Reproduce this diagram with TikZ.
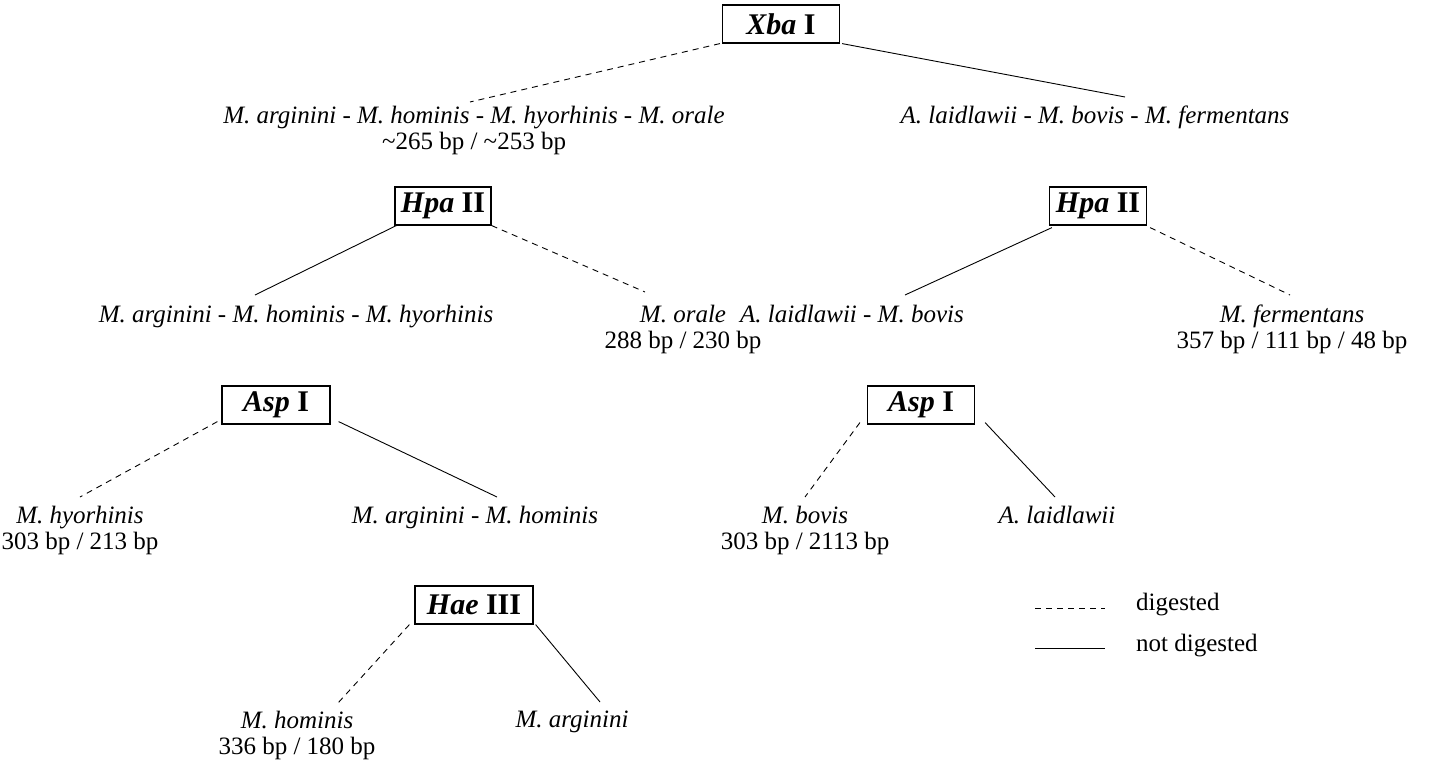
\documentclass[tikz,border=0pt]{standalone}
\usepackage{fontspec}
\setmainfont{Liberation Serif}
\usetikzlibrary{positioning}

\tikzset{
  enzyme/.style={draw, line width=1.2pt, inner xsep=6pt, minimum height=38pt,
                 font=\fontsize{30}{30}\selectfont\bfseries},
  species/.style={inner sep=0pt, align=center, font=\fontsize{25}{26}\selectfont},
  digest/.style={line width=0.9pt, dash pattern=on 6pt off 5pt},
  nodigest/.style={line width=0.9pt}
}

\begin{document}
\begin{tikzpicture}[x=1pt,y=-1pt]
        \useasboundingbox (0,0) rectangle (1435,767);

        \node[enzyme, minimum width=117pt] (xba) at (781,24) {\textit{Xba} I};
        \node[species, anchor=north] (sp1) at (474,106) {\textit{M. arginini - M. hominis - M. hyorhinis - M. orale}\\\textasciitilde265 bp / \textasciitilde253 bp};
        \node[species, anchor=north] (sp2) at (1095,106) {\textit{A. laidlawii - M. bovis - M. fermentans}};

        \node[enzyme, minimum width=95pt] (hpaL) at (443,206) {\textit{Hpa} II};
        \node[enzyme, minimum width=97pt] (hpaR) at (1098,206) {\textit{Hpa} II};
        \node[species, anchor=north] (sp3) at (296,305) {\textit{M. arginini - M. hominis - M. hyorhinis}};
        \node[species, anchor=north] (sp4) at (683,305) {\textit{M. orale}\\288 bp / 230 bp};
        \node[species, anchor=north] (sp5) at (852,305) {\textit{A. laidlawii - M. bovis}};
        \node[species, anchor=north] (sp6) at (1292,305) {\textit{M. fermentans}\\357 bp / 111 bp / 48 bp};

        \node[enzyme, minimum width=108pt] (aspL) at (276,405) {\textit{Asp} I};
        \node[enzyme, minimum width=107pt] (aspR) at (921,405) {\textit{Asp} I};
        \node[species, anchor=north] (sp7) at (80,506) {\textit{M. hyorhinis}\\303 bp / 213 bp};
        \node[species, anchor=north] (sp8) at (475,506) {\textit{M. arginini - M. hominis}};
        \node[species, anchor=north] (sp9) at (805,506) {\textit{M. bovis}\\303 bp / 2113 bp};
        \node[species, anchor=north] (sp10) at (1057,506) {\textit{A. laidlawii}};

        \node[enzyme, minimum width=118pt] (hae) at (474,605) {\textit{Hae} III};
        \node[species, anchor=north] (sp11) at (297,711) {\textit{M. hominis}\\336 bp / 180 bp};
        \node[species, anchor=north] (sp12) at (572,711) {\textit{M. arginini}};

        \draw[digest] ([xshift=-2pt]xba.south west) -- ([xshift=-4pt,yshift=4pt]sp1.north);
        \draw[nodigest] ([xshift=2pt]xba.south east) -- ([xshift=30pt,yshift=9pt]sp2.north);
        \draw[nodigest] ([xshift=2pt]hpaL.south west) -- ([xshift=-41pt,yshift=10pt]sp3.north);
        \draw[digest] (hpaL.south east) -- ([xshift=-38pt,yshift=13pt]sp4.north);
        \draw[nodigest] ([xshift=3pt,yshift=-2pt]hpaR.south west) -- ([xshift=53pt,yshift=10pt]sp5.north);
        \draw[digest] ([xshift=3pt,yshift=-2pt]hpaR.south east) -- ([xshift=-2pt,yshift=10pt]sp6.north);
        \draw[digest] ([xshift=-4pt,yshift=3pt]aspL.south west) -- ([yshift=9pt]sp7.north);
        \draw[nodigest] ([xshift=8pt,yshift=3pt]aspL.south east) -- ([xshift=22pt,yshift=9pt]sp8.north);
        \draw[digest] ([xshift=-7pt,yshift=2pt]aspR.south west) -- ([yshift=9pt]sp9.north);
        \draw[nodigest] ([xshift=10pt,yshift=2pt]aspR.south east) -- ([xshift=-2pt,yshift=9pt]sp10.north);
        \draw[digest] ([xshift=-5pt]hae.south west) -- ([xshift=41pt,yshift=8pt]sp11.north);
        \draw[nodigest] ([xshift=2pt]hae.south east) -- ([xshift=28pt,yshift=9pt]sp12.north);

        \node[species, anchor=west] (lgd1) at (1136,605) {digested};
        \node[species, anchor=west] (lgd2) at (1136,646) {not digested};
        \coordinate (lgd1a) at (1035,608);
        \coordinate (lgd2a) at (1035,648);
        \draw[digest] (lgd1a) -- ([xshift=-31pt,yshift=-3pt]lgd1.west);
        \draw[nodigest] (lgd2a) -- ([xshift=-31pt,yshift=-2pt]lgd2.west);
\end{tikzpicture}
\end{document}
